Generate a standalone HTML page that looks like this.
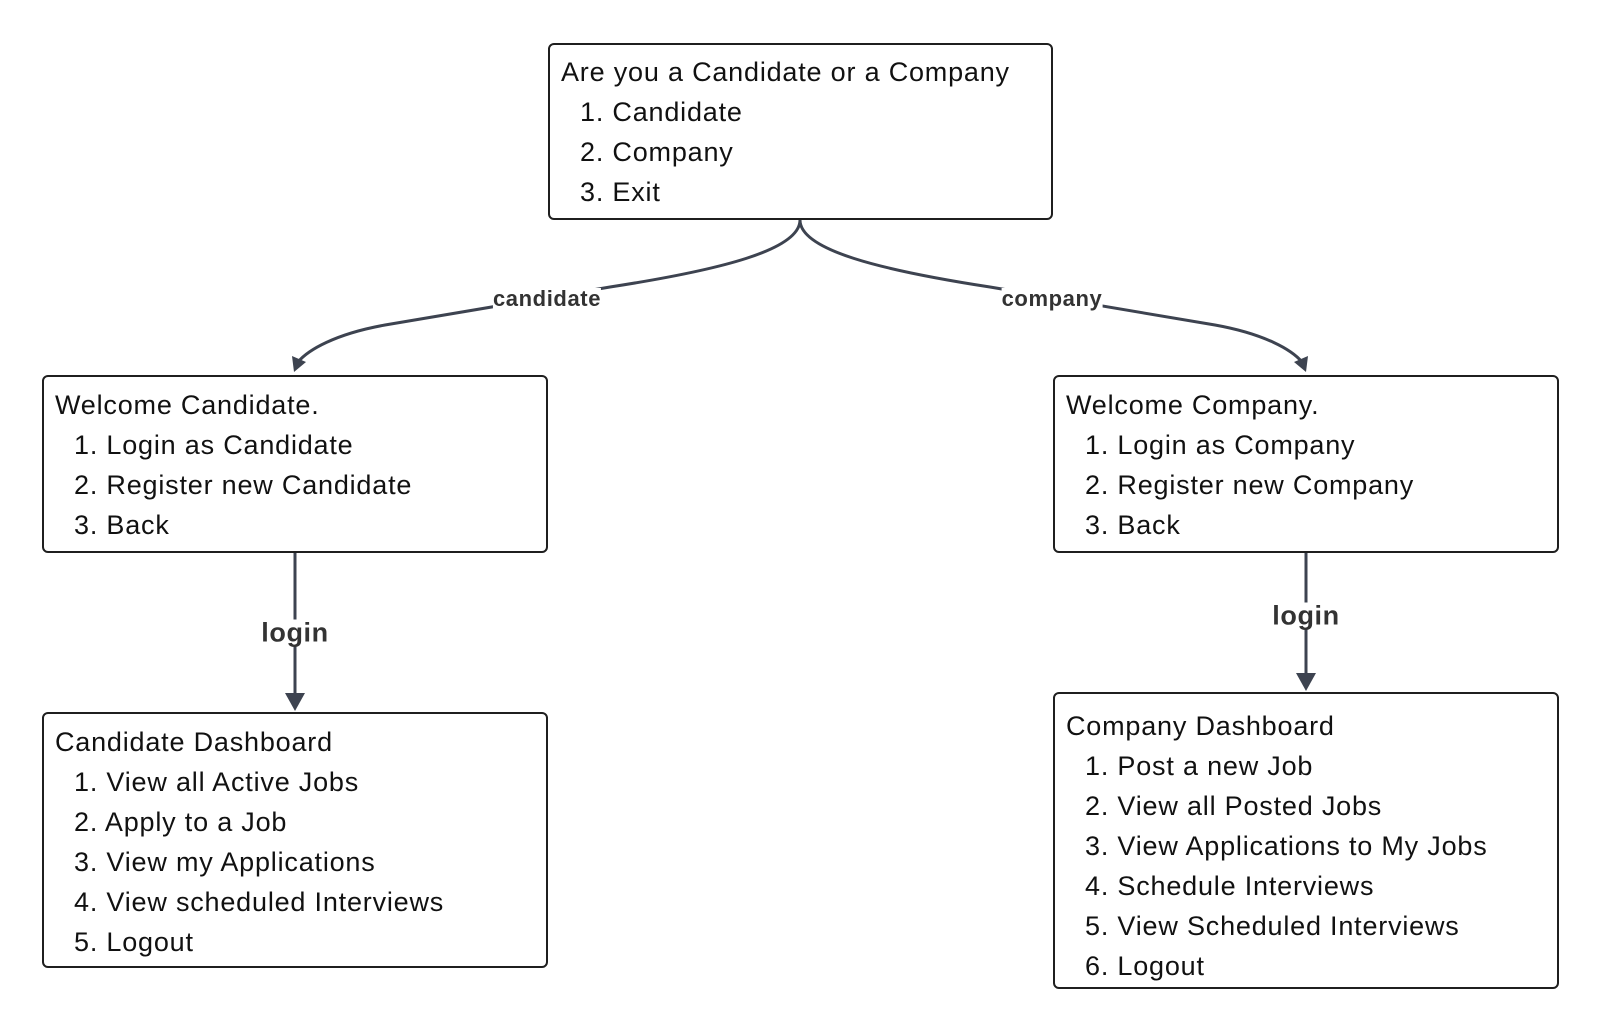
<!DOCTYPE html>
<html><head><style>
body{margin:0;background:#fff;width:1600px;height:1031px;position:relative;overflow:hidden;font-family:"Liberation Sans",sans-serif;}
.box{position:absolute;border:2px solid #1f1f1f;border-radius:6px;box-sizing:border-box;background:#fff;}
.t{position:absolute;font-size:27px;letter-spacing:0.8px;color:#111;white-space:nowrap;line-height:40px;}
.t span{padding-left:19px;}
.lbl{position:absolute;font-weight:bold;color:#333;background:#fff;white-space:nowrap;transform:translate(-50%,-50%);line-height:1;letter-spacing:0.6px;}
</style></head><body>
<svg width="1600" height="1031" style="position:absolute;left:0;top:0">
<g fill="none" stroke="#3d4350" stroke-width="3">
<path d="M800,220 C800,250 720,270 610,287 L385,325 C335,334 308,350 298,362"/>
<path d="M800,220 C800,250 880,270 990,287 L1215,325 C1265,334 1292,350 1302,362"/>
<path d="M295,553 L295,696"/>
<path d="M1306,553 L1306,676"/>
</g>
<g fill="#3d4350">
<polygon points="294,372 292,356 306,362"/>
<polygon points="1306,372 1294,362 1308,356"/>
<polygon points="295,711 285,693 305,693"/>
<polygon points="1306,691 1296,673 1316,673"/>
</g>
</svg>
<div class="lbl" style="left:547px;top:299px;font-size:22px">candidate</div>
<div class="lbl" style="left:1052px;top:299px;font-size:22px">company</div>
<div class="lbl" style="left:295px;top:633px;font-size:27px">login</div>
<div class="lbl" style="left:1306px;top:616px;font-size:27px">login</div>

<div class="box" style="left:548px;top:43px;width:505px;height:177px"></div>
<div class="t" style="left:561px;top:52px">Are you a Candidate or a Company<br><span>1. Candidate</span><br><span>2. Company</span><br><span>3. Exit</span></div>

<div class="box" style="left:42px;top:375px;width:506px;height:178px"></div>
<div class="t" style="left:55px;top:385px">Welcome Candidate.<br><span>1. Login as Candidate</span><br><span>2. Register new Candidate</span><br><span>3. Back</span></div>

<div class="box" style="left:1053px;top:375px;width:506px;height:178px"></div>
<div class="t" style="left:1066px;top:385px">Welcome Company.<br><span>1. Login as Company</span><br><span>2. Register new Company</span><br><span>3. Back</span></div>

<div class="box" style="left:42px;top:712px;width:506px;height:256px"></div>
<div class="t" style="left:55px;top:722px">Candidate Dashboard<br><span>1. View all Active Jobs</span><br><span>2. Apply to a Job</span><br><span>3. View my Applications</span><br><span>4. View scheduled Interviews</span><br><span>5. Logout</span></div>

<div class="box" style="left:1053px;top:692px;width:506px;height:297px"></div>
<div class="t" style="left:1066px;top:706px">Company Dashboard<br><span>1. Post a new Job</span><br><span>2. View all Posted Jobs</span><br><span>3. View Applications to My Jobs</span><br><span>4. Schedule Interviews</span><br><span>5. View Scheduled Interviews</span><br><span>6. Logout</span></div>
</body></html>
